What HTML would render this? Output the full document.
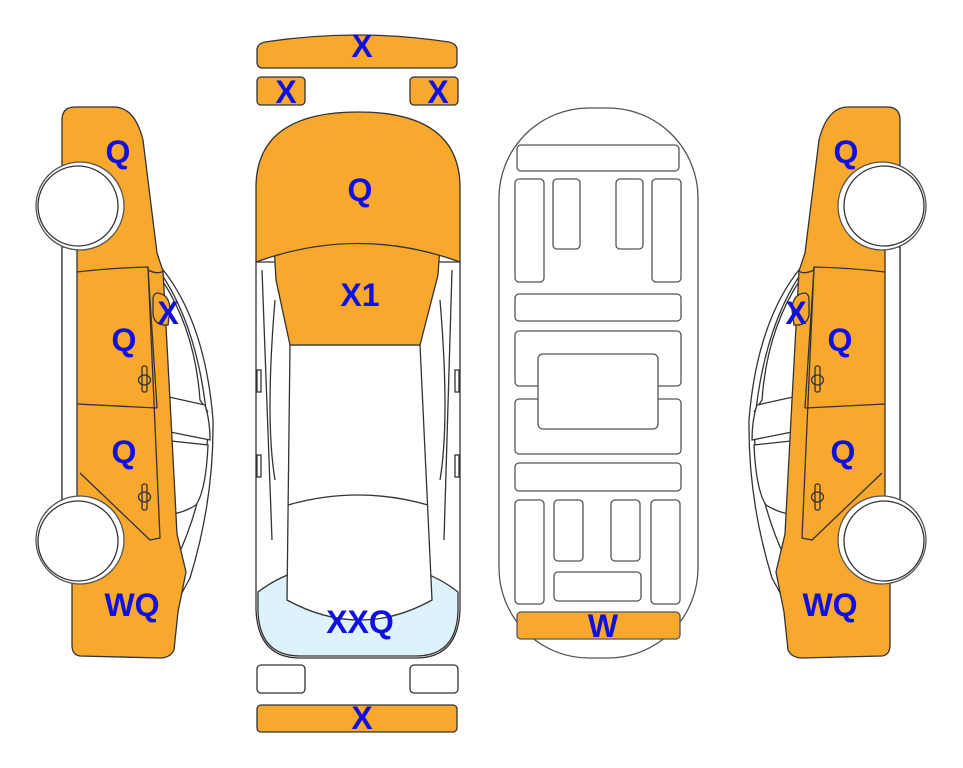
<!DOCTYPE html>
<html><head><meta charset="utf-8"><style>
html,body{margin:0;padding:0;background:#fff;}
svg{display:block;}
text{font-family:"Liberation Sans",sans-serif;font-weight:bold;font-size:32px;fill:#1010e0;text-anchor:middle;dominant-baseline:central;}
</style></head><body>
<svg width="963" height="768" viewBox="0 0 963 768" xmlns="http://www.w3.org/2000/svg">
<defs>
<g id="side" stroke="#333" stroke-width="1.3">
  <path d="M160,266 Q205,320 213,420 Q214,500 190,578 L178,600 L176,560 Q205,500 208,430 Q200,330 160,272 Z" fill="#fff"/>
  <path d="M162,280 Q195,330 200,400 L208,412" fill="none"/>
  <path d="M160,395 L205,405 Q210,420 210,440 L160,430" fill="#fff"/>
  <path d="M162,440 L208,445 Q206,490 196,505 Q180,515 162,515 Z" fill="#fff"/>
  <path d="M62,120 Q62,107 75,107 L115,107 Q135,108 143,140 L157,253 L163,271 L170,400 L177,534 L186,572 L178,612 L174,650 Q170,658 160,658 L80,656 Q72,655 72,645 L72,580 L62,570 L62,160 Z" fill="#f8a82c"/>
  <rect x="62" y="247" width="15" height="258" fill="#fff"/>
  <path d="M77,272 Q110,268 148,267 L160,538 L150,540 L80,473" fill="none"/>
  <line x1="77" y1="404" x2="157" y2="408"/>
  <line x1="148" y1="268" x2="157" y2="408"/>
  <path d="M148,270 Q158,275 163,271" fill="none"/>
  <path d="M158,293 Q170,295 170,310 L168,325 Q155,326 153,315 L153,300 Q153,293 158,293 Z" fill="#f8a82c"/>
  <rect x="142" y="366" width="5" height="26" rx="2" fill="none"/>
  <ellipse cx="144.5" cy="380" rx="6" ry="5" fill="none"/>
  <rect x="142" y="484" width="5" height="26" rx="2" fill="none"/>
  <ellipse cx="144.5" cy="497" rx="6" ry="5" fill="none"/>
  <circle cx="80" cy="206" r="44" fill="#fff" stroke="#555"/>
  <circle cx="78" cy="206" r="40" fill="#fff"/>
  <circle cx="80" cy="540" r="44" fill="#fff" stroke="#555"/>
  <circle cx="78" cy="541" r="40" fill="#fff"/>
</g>
</defs>
<use href="#side"/>
<use href="#side" transform="translate(962,0) scale(-1,1)"/>

<g stroke="#333" stroke-width="1.3">
  <path d="M257,50 Q257,44 265,42 Q357,28 449,42 Q457,44 457,50 L457,62 Q457,68 451,68 L263,68 Q257,68 257,62 Z" fill="#f8a82c"/>
  <rect x="257" y="77" width="48" height="28" rx="4" fill="#f8a82c"/>
  <rect x="410" y="77" width="48" height="28" rx="4" fill="#f8a82c"/>
  <path d="M256,262 L256,610 Q258,658 300,658 L416,658 Q458,658 460,610 L460,262 Z" fill="#fff"/>
  <path d="M258,592 Q300,560 358,566 Q418,560 458,592 L458,612 Q456,656 416,656 L300,656 Q260,656 258,612 Z" fill="#ddf3fb"/>
  <path d="M290,345 L420,345 L432,600 Q360,640 287,600 Z" fill="#fff"/>
  <path d="M288,505 Q358,485 428,505" fill="none"/>
  <path d="M262,270 L272,540 M452,270 L444,540" fill="none"/>
  <path d="M275,300 Q265,420 275,480 M440,300 Q450,420 440,480" fill="none"/>
  <rect x="257" y="370" width="4" height="22" fill="none"/>
  <rect x="455" y="370" width="4" height="22" fill="none"/>
  <rect x="257" y="455" width="4" height="22" fill="none"/>
  <rect x="455" y="455" width="4" height="22" fill="none"/>
  <path d="M274,245 Q358,230 440,245 L438,275 L420,345 L290,345 L276,280 Z" fill="#f8a82c"/>
  <path d="M256,262 L256,185 Q258,112 358,112 Q458,112 460,185 L460,262 Q358,225 256,262 Z" fill="#f8a82c"/>
  <rect x="257" y="665" width="48" height="28" rx="4" fill="#fff"/>
  <rect x="410" y="665" width="48" height="28" rx="4" fill="#fff"/>
  <rect x="257" y="705" width="200" height="27" rx="4" fill="#f8a82c"/>
</g>

<g stroke="#555" stroke-width="1.3" fill="#fff">
  <rect x="499" y="108" width="199" height="550" rx="90" ry="90"/>
  <rect x="517" y="145" width="162" height="26" rx="4"/>
  <rect x="515" y="179" width="29" height="103" rx="4"/>
  <rect x="553" y="179" width="27" height="70" rx="4"/>
  <rect x="616" y="179" width="27" height="70" rx="4"/>
  <rect x="652" y="179" width="29" height="103" rx="4"/>
  <rect x="515" y="294" width="166" height="27" rx="4"/>
  <rect x="515" y="331" width="166" height="55" rx="4"/>
  <rect x="515" y="399" width="166" height="55" rx="4"/>
  <rect x="538" y="354" width="120" height="75" rx="5"/>
  <rect x="515" y="463" width="166" height="28" rx="4"/>
  <rect x="515" y="500" width="29" height="104" rx="4"/>
  <rect x="554" y="500" width="29" height="61" rx="4"/>
  <rect x="611" y="500" width="29" height="61" rx="4"/>
  <rect x="651" y="500" width="29" height="104" rx="4"/>
  <rect x="554" y="572" width="87" height="29" rx="4"/>
  <rect x="517" y="612" width="163" height="27" rx="4" fill="#f8a82c"/>
</g>

<text x="118" y="152">Q</text>
<text x="168" y="313">X</text>
<text x="124" y="340">Q</text>
<text x="124" y="452">Q</text>
<text x="132" y="605">WQ</text>

<text x="362" y="46">X</text>
<text x="286" y="92">X</text>
<text x="438" y="92">X</text>
<text x="360" y="190">Q</text>
<text x="360" y="295">X1</text>
<text x="360" y="622">XXQ</text>
<text x="362" y="718">X</text>

<text x="603" y="626">W</text>

<text x="846" y="152">Q</text>
<text x="796" y="313">X</text>
<text x="840" y="340">Q</text>
<text x="843" y="452">Q</text>
<text x="830" y="605">WQ</text>
</svg>
</body></html>
